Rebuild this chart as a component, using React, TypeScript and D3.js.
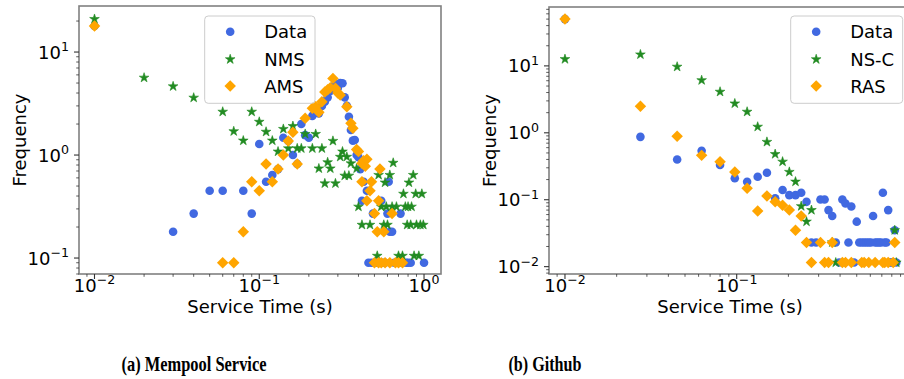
import React from 'react';
import * as d3 from 'd3';

// ---------- (a) Mempool Service ----------
const mempoolDataX = [0.01, 0.03, 0.04, 0.05, 0.06, 0.08, 0.09, 0.10, 0.11, 0.12, 0.13, 0.14, 0.15, 0.16, 0.17, 0.18, 0.19, 0.20, 0.21, 0.22, 0.23, 0.24, 0.25, 0.26, 0.27, 0.28, 0.29, 0.30, 0.31, 0.32, 0.33, 0.34, 0.35, 0.36, 0.37, 0.38, 0.39, 0.40, 0.41, 0.42, 0.43, 0.45, 0.46, 0.48, 0.49, 0.50, 0.52, 0.54, 0.55, 0.56, 0.58, 0.60, 0.61, 0.62, 0.64, 0.66, 0.70, 0.72, 0.74, 0.78, 0.80, 0.83, 1.0];
const mempoolDataY = [17.9, 0.18, 0.27, 0.45, 0.45, 0.45, 0.27, 1.28, 0.55, 0.64, 0.73, 1.47, 1.37, 1.0, 0.82, 2.0, 1.56, 1.47, 2.4, 2.7, 2.54, 3.0, 3.3, 3.63, 4.2, 4.6, 4.9, 4.5, 5.0, 4.97, 3.63, 3.0, 2.35, 1.75, 1.38, 1.4, 1.0, 0.95, 0.73, 0.36, 0.55, 0.45, 0.09, 0.09, 0.27, 0.09, 0.09, 0.09, 0.36, 0.09, 0.09, 0.27, 0.55, 0.18, 0.18, 0.09, 0.09, 0.27, 0.09, 0.09, 0.09, 0.09, 0.09];

const mempoolNmsX = [0.01, 0.02, 0.03, 0.04, 0.06, 0.07, 0.08, 0.09, 0.10, 0.11, 0.12, 0.13, 0.14, 0.15, 0.16, 0.17, 0.18, 0.19, 0.21, 0.22, 0.23, 0.24, 0.25, 0.26, 0.27, 0.28, 0.29, 0.31, 0.32, 0.33, 0.34, 0.35, 0.36, 0.39, 0.40, 0.42, 0.47, 0.52, 0.53, 0.55, 0.57, 0.58, 0.59, 0.60, 0.62, 0.64, 0.65, 0.68, 0.70, 0.74, 0.75, 0.77, 0.79, 0.80, 0.81, 0.83, 0.84, 0.86, 0.87, 0.89, 0.90, 0.93, 0.95, 0.97, 0.99];
const mempoolNmsY = [20.9, 5.63, 4.64, 3.6, 2.63, 1.70, 1.38, 2.63, 2.10, 1.68, 1.38, 1.08, 1.79, 1.16, 1.91, 1.16, 1.16, 1.6, 1.16, 1.6, 0.74, 1.16, 0.53, 0.85, 0.74, 1.37, 0.53, 0.96, 1.08, 0.63, 0.96, 0.63, 0.83, 0.74, 0.315, 0.21, 0.21, 0.105, 0.64, 0.315, 0.21, 0.54, 0.315, 0.21, 0.64, 0.315, 0.84, 0.315, 0.105, 0.105, 0.42, 0.315, 0.21, 0.315, 0.54, 0.21, 0.315, 0.64, 0.105, 0.42, 0.21, 0.105, 0.21, 0.42, 0.21];

const mempoolAmsX = [0.01, 0.06, 0.07, 0.08, 0.09, 0.10, 0.11, 0.12, 0.13, 0.14, 0.15, 0.16, 0.17, 0.19, 0.21, 0.22, 0.23, 0.24, 0.25, 0.26, 0.27, 0.28, 0.29, 0.30, 0.31, 0.34, 0.36, 0.37, 0.39, 0.40, 0.42, 0.43, 0.44, 0.45, 0.42, 0.47, 0.45, 0.53, 0.50, 0.64, 0.52, 0.57, 0.54, 0.48, 0.50, 0.53, 0.55, 0.58, 0.62, 0.67, 0.70, 0.74];
const mempoolAmsY = [17.9, 0.09, 0.09, 0.18, 0.55, 0.45, 0.82, 0.55, 0.73, 1.0, 1.37, 1.66, 0.82, 2.27, 2.84, 2.95, 2.6, 3.3, 4.1, 4.3, 4.5, 5.55, 4.44, 4.0, 3.83, 2.94, 2.03, 1.82, 1.13, 1.08, 0.83, 0.88, 0.78, 0.91, 0.55, 0.45, 0.36, 0.36, 0.27, 0.27, 0.18, 0.18, 0.73, 0.55, 0.09, 0.09, 0.09, 0.09, 0.09, 0.09, 0.09, 0.09];

// ---------- (b) Github ----------
const githubDataX = [0.01, 0.0275, 0.045, 0.0625, 0.08, 0.0975, 0.115, 0.1325, 0.15, 0.1675, 0.185, 0.2025, 0.22, 0.2375, 0.255, 0.2725, 0.29, 0.3075, 0.325, 0.3425, 0.36, 0.3775, 0.395, 0.4125, 0.43, 0.4475, 0.465, 0.4825, 0.5, 0.5175, 0.535, 0.5525, 0.57, 0.5875, 0.605, 0.6225, 0.64, 0.6575, 0.675, 0.6925, 0.71, 0.7275, 0.745, 0.7625, 0.78, 0.7975, 0.815, 0.8325, 0.85];
const githubDataY = [50, 0.87, 0.40, 0.54, 0.33, 0.209, 0.186, 0.22, 0.253, 0.105, 0.14, 0.117, 0.117, 0.127, 0.093, 0.023, 0.023, 0.101, 0.101, 0.070, 0.057, 0.023, 0.0115, 0.101, 0.088, 0.023, 0.079, 0.0115, 0.047, 0.023, 0.023, 0.023, 0.023, 0.023, 0.023, 0.057, 0.023, 0.023, 0.023, 0.023, 0.127, 0.023, 0.023, 0.070, 0.0115, 0.0115, 0.0115, 0.035, 0.0115];

const githubNscX = [0.01, 0.0275, 0.045, 0.0625, 0.08, 0.0975, 0.115, 0.1325, 0.15, 0.1675, 0.185, 0.2025, 0.22, 0.2375, 0.255, 0.2725, 0.36, 0.3775, 0.8325, 0.85];
const githubNscY = [12.6, 14.8, 9.7, 6.1, 4.1, 2.74, 2.06, 1.23, 0.73, 0.48, 0.37, 0.26, 0.186, 0.080, 0.047, 0.070, 0.023, 0.0115, 0.035, 0.0115];

const githubRasX = [0.01, 0.0275, 0.045, 0.0625, 0.08, 0.0975, 0.115, 0.1325, 0.15, 0.1675, 0.185, 0.2025, 0.22, 0.2375, 0.255, 0.2725, 0.3075, 0.325, 0.3425, 0.36, 0.4125, 0.43, 0.465, 0.535, 0.5525, 0.5875, 0.64, 0.71, 0.7275, 0.7625, 0.815, 0.8325];
const githubRasY = [50, 2.5, 0.89, 0.46, 0.37, 0.26, 0.148, 0.068, 0.114, 0.093, 0.083, 0.070, 0.035, 0.057, 0.023, 0.0115, 0.023, 0.0115, 0.0115, 0.023, 0.0115, 0.0115, 0.0115, 0.0115, 0.0115, 0.0115, 0.0115, 0.0115, 0.0115, 0.0115, 0.0115, 0.023];

const mempoolLabels = ['Data', 'NMS', 'AMS'];
const githubLabels = ['Data', 'NS-C', 'RAS'];
const captions = ['(a) Mempool Service', '(b) Github'];
const xLabel = 'Service Time (s)';
const yLabel = 'Frequency';

const BLUE = '#4169E1';
const GREEN = '#228B22';
const ORANGE = '#FFA500';
const FONT = 'DejaVu Sans, sans-serif';

const circlePath = d3.symbol(d3.symbolCircle, 58)() as string;
const starPath = d3.symbol(d3.symbolStar, 29)() as string;
const diamondPath = d3.symbol(d3.symbolSquare, 66)() as string;

type Kind = 'circle' | 'star' | 'diamond';

function Mark({ kind, color, x, y }: { kind: Kind; color: string; x: number; y: number }) {
  if (kind === 'circle') return <path d={circlePath} transform={`translate(${x},${y})`} fill={color} />;
  if (kind === 'star') return <path d={starPath} transform={`translate(${x},${y})`} fill={color} stroke={color} strokeWidth={0.6} />;
  return <path d={diamondPath} transform={`translate(${x},${y}) rotate(45)`} fill={color} />;
}

function Pow10({ exp, x, y, anchor }: { exp: number; x: number; y: number; anchor: string }) {
  const e = exp < 0 ? '\u2212' + Math.abs(exp) : String(exp);
  return (
    <text x={x} y={y} textAnchor={anchor} fontFamily={FONT} fontSize={18} fill="#000">
      <tspan>10</tspan>
      <tspan dy={-7.5} fontSize={12.6}>{e}</tspan>
    </text>
  );
}

type PanelProps = {
  x0: number; x1: number; y0: number; y1: number;
  xLog: [number, number]; yLog: [number, number];
  xMajor: number[]; yMajor: number[];
  series: { xs: number[]; ys: number[]; kind: Kind; color: string }[];
  labels: string[];
  legendX0: number; legendX1: number;
  yLabelX: number;
};

function Panel(p: PanelProps) {
  const xs = d3.scaleLog().domain([10 ** p.xLog[0], 10 ** p.xLog[1]]).range([p.x0, p.x1]);
  const ys = d3.scaleLog().domain([10 ** p.yLog[0], 10 ** p.yLog[1]]).range([p.y1, p.y0]);
  const minor = (lo: number, hi: number) => {
    const out: number[] = [];
    for (let e = Math.floor(lo) - 1; e <= Math.ceil(hi); e++) {
      for (let m = 2; m <= 9; m++) {
        const v = m * 10 ** e;
        const l = Math.log10(v);
        if (l >= lo && l <= hi) out.push(v);
      }
    }
    return out;
  };
  const xMinor = minor(p.xLog[0], p.xLog[1]);
  const yMinor = minor(p.yLog[0], p.yLog[1]);
  const kinds: Kind[] = ['circle', 'star', 'diamond'];
  const colors = [BLUE, GREEN, ORANGE];
  const rowY = [31.7, 59.3, 86];
  const clipId = `clip${p.x0}`;
  return (
    <g>
      <defs>
        <clipPath id={clipId}>
          <rect x={p.x0} y={p.y0} width={p.x1 - p.x0} height={p.y1 - p.y0} />
        </clipPath>
      </defs>
      <g clipPath={`url(#${clipId})`}>
        {p.series.map((s, si) =>
          s.xs.map((xv, i) => (
            <Mark key={`${si}-${i}`} kind={s.kind} color={s.color} x={xs(xv)} y={ys(s.ys[i])} />
          ))
        )}
      </g>
      <rect x={p.x0} y={p.y0} width={p.x1 - p.x0} height={p.y1 - p.y0} fill="none" stroke="#808080" strokeWidth={1.6} />
      {p.xMajor.map((e) => (
        <g key={`xm${e}`}>
          <line x1={xs(10 ** e)} x2={xs(10 ** e)} y1={p.y1} y2={p.y1 + 5} stroke="#333" strokeWidth={1.1} />
          <Pow10 exp={e} x={xs(10 ** e)} y={p.y1 + 17.7} anchor="middle" />
        </g>
      ))}
      {xMinor.map((v, i) => (
        <line key={`xn${i}`} x1={xs(v)} x2={xs(v)} y1={p.y1} y2={p.y1 + 2.8} stroke="#333" strokeWidth={0.8} />
      ))}
      {p.yMajor.map((e) => (
        <g key={`ym${e}`}>
          <line x1={p.x0 - 5} x2={p.x0} y1={ys(10 ** e)} y2={ys(10 ** e)} stroke="#333" strokeWidth={1.1} />
          <Pow10 exp={e} x={p.x0 - 10} y={ys(10 ** e) + 6.6} anchor="end" />
        </g>
      ))}
      {yMinor.map((v, i) => (
        <line key={`yn${i}`} x1={p.x0 - 2.8} x2={p.x0} y1={ys(v)} y2={ys(v)} stroke="#333" strokeWidth={0.8} />
      ))}
      <text x={(p.x0 + p.x1) / 2} y={313} textAnchor="middle" fontFamily={FONT} fontSize={18} fill="#000">{xLabel}</text>
      <text transform={`translate(${p.yLabelX},${(p.y0 + p.y1) / 2}) rotate(-90)`} textAnchor="middle" fontFamily={FONT} fontSize={18} fill="#000">{yLabel}</text>
      <rect x={p.legendX0} y={16} width={p.legendX1 - p.legendX0} height={87.3} rx={3.5} fill="#fff" fillOpacity={0.8} stroke="#cccccc" strokeWidth={1} />
      {p.labels.map((lab, i) => (
        <g key={lab}>
          <Mark kind={kinds[i]} color={colors[i]} x={p.legendX0 + 25.5} y={rowY[i]} />
          <text x={p.legendX0 + 59.5} y={rowY[i] + 6.6} fontFamily={FONT} fontSize={18} fill="#000">{lab}</text>
        </g>
      ))}
    </g>
  );
}

export default function App() {
  return (
    <svg width={904} height={379} viewBox="0 0 904 379" style={{ display: 'block', position: 'absolute', left: 0, top: 0, background: '#fff' }}>
      <rect x={0} y={0} width={904} height={379} fill="#fff" />
      <Panel
        x0={79} x1={441} y0={6} y1={274}
        xLog={[-2.094, 0.103]} yLog={[-1.155, 1.447]}
        xMajor={[-2, -1, 0]} yMajor={[-1, 0, 1]}
        series={[
          { xs: mempoolDataX, ys: mempoolDataY, kind: 'circle', color: BLUE },
          { xs: mempoolNmsX, ys: mempoolNmsY, kind: 'star', color: GREEN },
          { xs: mempoolAmsX, ys: mempoolAmsY, kind: 'diamond', color: ORANGE },
        ]}
        labels={mempoolLabels}
        legendX0={204.7} legendX1={315}
        yLabelX={25.5}
      />
      <Panel
        x0={549} x1={911} y0={7} y1={274}
        xLog={[-2.093, 0.015]} yLog={[-2.11, 1.88]}
        xMajor={[-2, -1]} yMajor={[-2, -1, 0, 1]}
        series={[
          { xs: githubDataX, ys: githubDataY, kind: 'circle', color: BLUE },
          { xs: githubNscX, ys: githubNscY, kind: 'star', color: GREEN },
          { xs: githubRasX, ys: githubRasY, kind: 'diamond', color: ORANGE },
        ]}
        labels={githubLabels}
        legendX0={790.7} legendX1={902.7}
        yLabelX={495.5}
      />
      <text x={194} y={371} textAnchor="middle" fontFamily="Liberation Serif, serif" fontWeight="bold" fontSize={21} textLength={145} lengthAdjust="spacingAndGlyphs" fill="#000">{captions[0]}</text>
      <text x={545} y={371} textAnchor="middle" fontFamily="Liberation Serif, serif" fontWeight="bold" fontSize={21} textLength={73} lengthAdjust="spacingAndGlyphs" fill="#000">{captions[1]}</text>
    </svg>
  );
}
